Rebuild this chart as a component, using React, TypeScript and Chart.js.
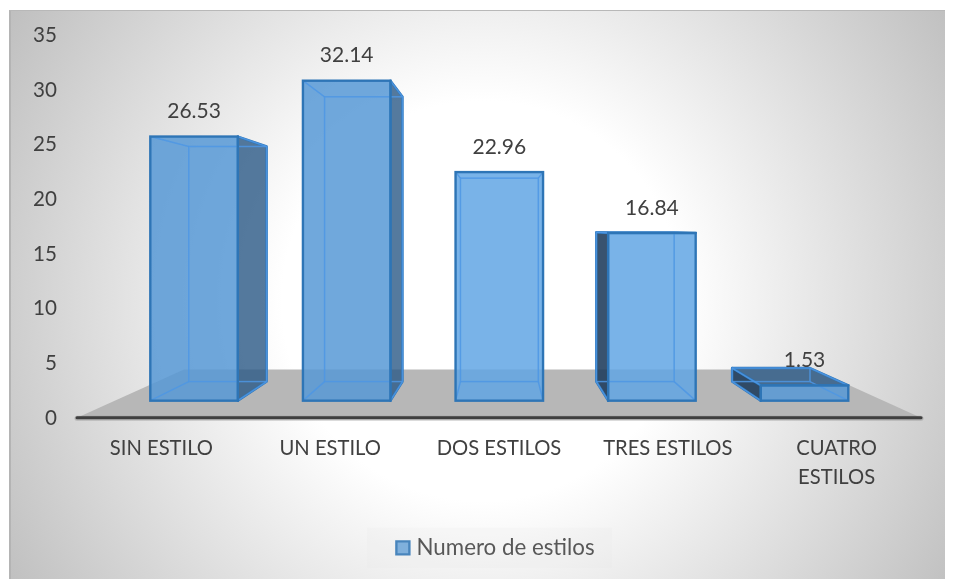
import React, { useEffect, useRef } from "react";
import { Chart, registerables } from "chart.js";

Chart.register(...registerables);

const categories: (string | string[])[] = ["SIN ESTILO", "UN ESTILO", "DOS ESTILOS", "TRES ESTILOS", ["CUATRO", "ESTILOS"]];
const seriesName = "Numero de estilos";
const values = [26.53, 32.14, 22.96, 16.84, 1.53];
const barFills = ["rgba(85,151,213,0.84)", "rgba(85,151,213,0.84)", "rgba(95,165,228,0.84)", "rgba(95,165,228,0.84)", "rgba(85,151,213,0.84)"];

const FONT = "Lato, Carlito, Calibri, sans-serif";
const TEXT = "#404040";
const EDGE = "#2e75b6";
const INNER = "rgba(78,150,228,0.85)";
const vp = { x: 500, y: 227 };
const backK = 0.89;
const floorK = 0.747;

const px = (x: number, k: number) => vp.x + k * (x - vp.x);
const py = (y: number, k: number) => vp.y + k * (y - vp.y);

function poly(ctx: CanvasRenderingContext2D, pts: number[][], fill?: string, stroke?: string, lw = 2.4) {
  ctx.beginPath();
  pts.forEach((p, i) => (i ? ctx.lineTo(p[0], p[1]) : ctx.moveTo(p[0], p[1])));
  ctx.closePath();
  if (fill) {
    ctx.fillStyle = fill;
    ctx.fill();
  }
  if (stroke) {
    ctx.strokeStyle = stroke;
    ctx.lineWidth = lw;
    ctx.lineJoin = "round";
    ctx.stroke();
  }
}

function boxOf(el: any) {
  const x0 = el.x - el.width / 2;
  const x1 = el.x + el.width / 2;
  const top = el.y;
  const base = el.base;
  return { x0, x1, top, base, bx0: px(x0, backK), bx1: px(x1, backK), bTop: py(top, backK), bBase: py(base, backK) };
}

const box3d = {
  id: "box3d",
  afterLayout(chart: any) {
    const l = chart.legend;
    if (l) {
      l.left -= 1.5;
      l.right -= 1.5;
    }
  },
  beforeDatasetsDraw(chart: any) {
    const { ctx, chartArea } = chart;
    const xl = chartArea.left;
    const xr = chartArea.right;
    const yb = chartArea.bottom - 0.5;
    ctx.save();
    // legend panel
    const hb = chart.legend?.legendHitBoxes?.[0];
    if (hb) {
      ctx.fillStyle = "rgba(225,225,225,0.15)";
      ctx.fillRect(367, hb.top - 9, 245, hb.height + 18);
    }
    // floor
    poly(ctx, [[xl, yb], [px(xl, floorK), py(yb, floorK)], [px(xr, floorK), py(yb, floorK)], [xr, yb]], "#b7b7b7");
    // axis line
    ctx.strokeStyle = "rgba(120,120,120,0.35)";
    ctx.lineWidth = 5;
    ctx.lineCap = "round";
    ctx.beginPath();
    ctx.moveTo(xl, yb + 0.5);
    ctx.lineTo(xr, yb + 0.5);
    ctx.stroke();
    ctx.strokeStyle = "#3f3f3f";
    ctx.lineWidth = 3;
    ctx.beginPath();
    ctx.moveTo(xl, yb);
    ctx.lineTo(xr, yb);
    ctx.stroke();
    ctx.lineCap = "butt";
    // outer faces
    chart.getDatasetMeta(0).data.forEach((el: any) => {
      const b = boxOf(el);
      if (b.bTop < b.top) {
        poly(ctx, [[b.x0, b.top], [b.bx0, b.bTop], [b.bx1, b.bTop], [b.x1, b.top]], "rgba(42,89,134,0.8)", EDGE);
      }
      if (b.bx1 > b.x1) {
        poly(ctx, [[b.x1, b.top], [b.bx1, b.bTop], [b.bx1, b.bBase], [b.x1, b.base]], "rgba(42,89,134,0.8)", EDGE);
      }
      if (b.bx0 < b.x0) {
        poly(ctx, [[b.x0, b.top], [b.bx0, b.bTop], [b.bx0, b.bBase], [b.x0, b.base]], "rgba(28,58,90,0.87)", EDGE);
      }
    });
    ctx.restore();
  },
  afterDatasetsDraw(chart: any) {
    const { ctx } = chart;
    ctx.save();
    chart.getDatasetMeta(0).data.forEach((el: any, i: number) => {
      const b = boxOf(el);
      ctx.strokeStyle = INNER;
      ctx.lineWidth = 1.5;
      ctx.strokeRect(b.bx0, Math.min(b.bTop, b.bBase), b.bx1 - b.bx0, Math.abs(b.bBase - b.bTop));
      ctx.beginPath();
      ([[b.x0, b.top, b.bx0, b.bTop], [b.x1, b.top, b.bx1, b.bTop], [b.x0, b.base, b.bx0, b.bBase], [b.x1, b.base, b.bx1, b.bBase]] as number[][]).forEach((s) => {
        ctx.moveTo(s[0], s[1]);
        ctx.lineTo(s[2], s[3]);
      });
      ctx.stroke();
      // front border on top
      ctx.strokeStyle = EDGE;
      ctx.lineWidth = 2.4;
      ctx.strokeRect(b.x0, b.top, b.x1 - b.x0, b.base - b.top);
      // value label
      ctx.fillStyle = TEXT;
      ctx.font = `21px ${FONT}`;
      ctx.textAlign = "center";
      ctx.textBaseline = "middle";
      ctx.fillText(values[i].toFixed(2), el.x, b.top - 25);
    });
    ctx.restore();
  },
};

export default function App() {
  const ref = useRef<HTMLCanvasElement>(null);
  useEffect(() => {
    document.body.style.margin = "0";
    document.body.style.background = "#fff";
    const chart = new Chart(ref.current!, {
      type: "bar",
      data: {
        labels: categories as any,
        datasets: [
          {
            label: seriesName,
            data: values.map((v, i) => ({ x: i, y: v })),
            xAxisID: "frontX",
            yAxisID: "front",
            backgroundColor: barFills,
            borderColor: EDGE,
            borderWidth: 0,
            barThickness: 87.5,
          },
        ],
      },
      plugins: [box3d],
      options: {
        animation: false,
        responsive: false,
        devicePixelRatio: 1,
        layout: { padding: { top: 0, right: 35, bottom: 10, left: 0 } },
        plugins: {
          tooltip: { enabled: false },
          legend: {
            display: true,
            position: "bottom",
            fullSize: false,
            labels: {
              usePointStyle: true,
              boxWidth: 5,
              boxHeight: 13,
              padding: 10,
              color: TEXT,
              font: { family: FONT, size: 22.3 },
              generateLabels: () => [
                { text: seriesName, fillStyle: barFills[0], strokeStyle: EDGE, lineWidth: 2.4, fontColor: TEXT, pointStyle: "rect", datasetIndex: 0 } as any,
              ],
            },
          },
        },
        scales: {
          x: {
            type: "category",
            display: true,
            grid: { display: false, drawTicks: false },
            border: { display: false },
            ticks: {
              color: TEXT,
              font: { family: FONT, size: 20.2, lineHeight: 1.43 },
              padding: 16,
              autoSkip: false,
              maxRotation: 0,
              minRotation: 0,
            },
            afterFit: (s: any) => {
              s.height = 108.5;
            },
          },
          y: {
            position: "left",
            display: true,
            min: 0,
            max: 35,
            grid: { display: false, drawTicks: false },
            border: { display: false },
            ticks: { stepSize: 5, color: TEXT, font: { family: FONT, size: 20.6 }, padding: 20 },
            afterFit: (s: any) => {
              s.width = 77;
              s.paddingTop = 35.5;
            },
          },
          frontX: {
            type: "linear",
            axis: "x",
            display: false,
            offset: false,
            min: -0.767,
            max: 4.763,
          },
          front: {
            type: "linear",
            axis: "y",
            display: false,
            position: "left",
            min: -1.76,
            max: 36.68,
          },
        },
      },
    } as any);
    return () => chart.destroy();
  }, []);
  return (
    <div style={{ position: "relative", width: 956, height: 579, overflow: "hidden", background: "#fff" }}>
      <div
        style={{
          position: "absolute",
          left: 9,
          top: 10,
          width: 936,
          height: 569,
          boxSizing: "border-box",
          borderLeft: "2px solid #b4b4b4",
          borderTop: "1px solid #b8b8b8",
          background: "radial-gradient(circle at 471px 290px, #ffffff 0px, #ffffff 200px, #bfbfbf 555px)",
        }}
      />
      <canvas ref={ref} width={956} height={579} style={{ position: "absolute", left: 0, top: 0, display: "block" }} />
    </div>
  );
}
